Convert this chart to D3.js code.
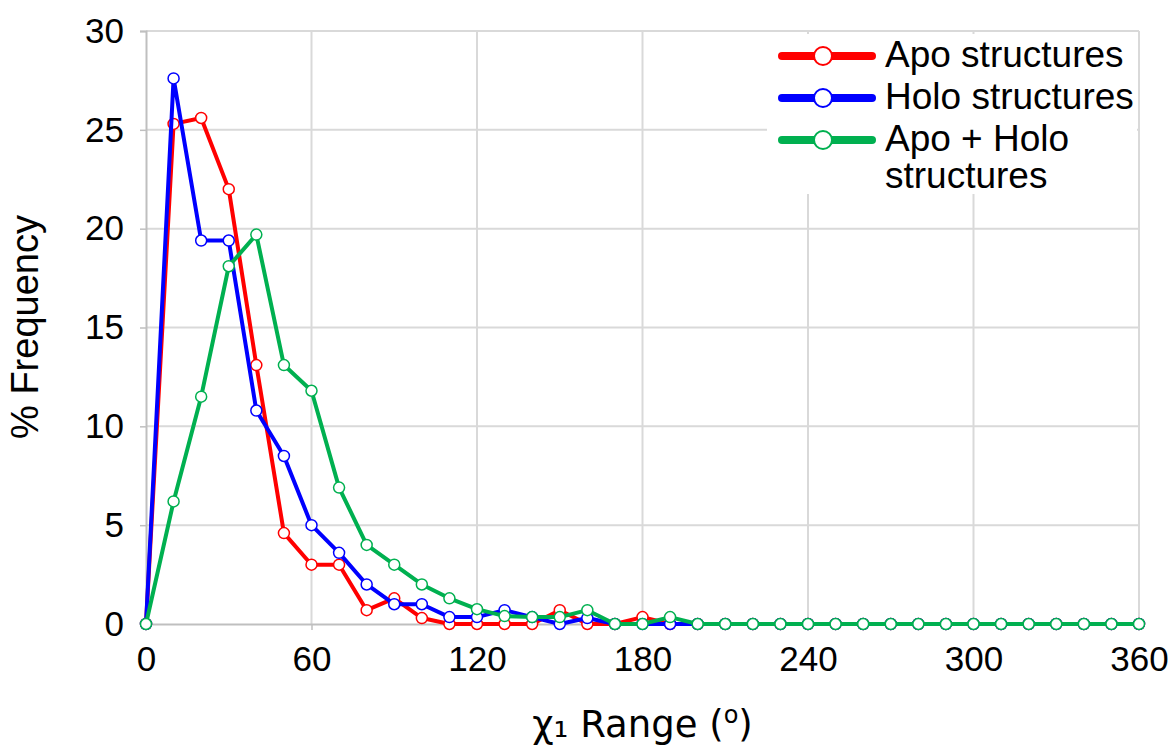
<!DOCTYPE html>
<html>
<head>
<meta charset="utf-8">
<script src="https://cdn.jsdelivr.net/npm/d3@7"></script>
<style>
  body { margin: 0; background: white; }
  svg { display: block; }
</style>
</head>
<body>
<div class="chi-chart"></div>
<script>
// chi1 range bins (degrees)
var angles = [0, 10, 20, 30, 40, 50, 60, 70, 80, 90, 100, 110, 120, 130, 140, 150, 160, 170, 180,
              190, 200, 210, 220, 230, 240, 250, 260, 270, 280, 290, 300, 310, 320, 330, 340, 350, 360];

// % frequency per bin
var apoData = [0, 25.3, 25.6, 22.0, 13.1, 4.6, 3.0, 3.0, 0.7, 1.3, 0.3, 0, 0, 0, 0, 0.7, 0, 0, 0.35,
               0, 0, 0, 0, 0, 0, 0, 0, 0, 0, 0, 0, 0, 0, 0, 0, 0, 0];
var holoData = [0, 27.6, 19.4, 19.4, 10.8, 8.5, 5.0, 3.6, 2.0, 1.0, 1.0, 0.35, 0.35, 0.7, 0.35, 0, 0.3, 0, 0,
                0, 0, 0, 0, 0, 0, 0, 0, 0, 0, 0, 0, 0, 0, 0, 0, 0, 0];
var bothData = [0, 6.2, 11.5, 18.1, 19.7, 13.1, 11.8, 6.9, 4.0, 3.0, 2.0, 1.3, 0.75, 0.4, 0.35, 0.35, 0.7, 0, 0,
                0.35, 0, 0, 0, 0, 0, 0, 0, 0, 0, 0, 0, 0, 0, 0, 0, 0, 0];

var seriesNames = ['Apo structures', 'Holo structures', 'Apo + Holo|structures'];
var seriesColors = ['#ff0000', '#0000ff', '#00b050'];
var xTicks = [0, 60, 120, 180, 240, 300, 360];
var yTicks = [0, 5, 10, 15, 20, 25, 30];

var width = 1173,
    height = 747,
    margin = {top: 31, right: 34, bottom: 123, left: 146};

var series = [apoData, holoData, bothData];

var svg = d3.select('.chi-chart').append('svg')
    .attr('width', width)
    .attr('height', height)
    .style('background', 'white');

var x = d3.scaleLinear().domain([0, 360]).range([margin.left, width - margin.right]);
var y = d3.scaleLinear().domain([0, 30]).range([height - margin.bottom, margin.top]);

var tickFont = '"Liberation Sans", Arial, sans-serif';

// gridlines
svg.append('g').selectAll('line').data(yTicks.slice(1))
    .enter().append('line')
        .attr('x1', x(0)).attr('x2', x(360))
        .attr('y1', function(d) { return y(d); })
        .attr('y2', function(d) { return y(d); })
        .attr('stroke', '#d9d9d9')
        .attr('stroke-width', 2);

svg.append('g').selectAll('line').data(xTicks.slice(1))
    .enter().append('line')
        .attr('y1', y(0)).attr('y2', y(30))
        .attr('x1', function(d) { return x(d); })
        .attr('x2', function(d) { return x(d); })
        .attr('stroke', '#d9d9d9')
        .attr('stroke-width', 2);

// axes
var xAxis = svg.append('g')
    .attr('transform', 'translate(0,' + y(0) + ')')
    .call(d3.axisBottom(x).tickValues(xTicks).tickSize(6).tickPadding(8));
var yAxis = svg.append('g')
    .attr('transform', 'translate(' + x(0) + ',0)')
    .call(d3.axisLeft(y).tickValues(yTicks).tickSize(6).tickPadding(16));

[xAxis, yAxis].forEach(function(a) {
    a.select('.domain').attr('stroke', '#bfbfbf').attr('stroke-width', 2);
    a.selectAll('.tick line').attr('stroke', '#bfbfbf').attr('stroke-width', 1.5);
    a.selectAll('.tick text')
        .attr('fill', 'black')
        .style('font-family', tickFont)
        .style('font-size', '35px');
});
xAxis.selectAll('.tick text').attr('dy', '0.95em');

// lines and markers, one series at a time
var line = d3.line()
    .x(function(d, i) { return x(angles[i]); })
    .y(function(d) { return y(d); });

series.forEach(function(data, s) {
    var g = svg.append('g');
    g.append('path')
        .datum(data)
        .attr('d', line)
        .attr('fill', 'none')
        .attr('stroke', seriesColors[s])
        .attr('stroke-width', 4)
        .attr('stroke-linejoin', 'round');
    g.selectAll('circle').data(data)
        .enter().append('circle')
            .attr('cx', function(d, i) { return x(angles[i]); })
            .attr('cy', function(d) { return y(d); })
            .attr('r', 5.5)
            .attr('fill', 'white')
            .attr('stroke', seriesColors[s])
            .attr('stroke-width', 1.5);
});

// legend
var legend = svg.append('g');
legend.append('rect')
    .attr('x', 767).attr('y', 34)
    .attr('width', 370).attr('height', 160)
    .attr('fill', 'white');

var legendY = [56, 98, 140];
seriesNames.forEach(function(name, s) {
    legend.append('line')
        .attr('x1', 782).attr('x2', 872)
        .attr('y1', legendY[s]).attr('y2', legendY[s])
        .attr('stroke', seriesColors[s])
        .attr('stroke-width', 8)
        .attr('stroke-linecap', 'round');
    legend.append('circle')
        .attr('cx', 823).attr('cy', legendY[s])
        .attr('r', 9)
        .attr('fill', 'white')
        .attr('stroke', seriesColors[s])
        .attr('stroke-width', 2);
    name.split('|').forEach(function(part, k) {
        legend.append('text')
            .text(part)
            .attr('x', 885)
            .attr('y', legendY[s] + 11 + k * 37)
            .attr('fill', 'black')
            .style('font-family', tickFont)
            .style('font-size', '37px');
    });
});

// axis titles
svg.append('text')
    .text('% Frequency')
    .attr('transform', 'translate(38,' + 327 + ') rotate(-90)')
    .attr('text-anchor', 'middle')
    .attr('fill', 'black')
    .style('font-family', tickFont)
    .style('font-size', '38px');

var xTitle = svg.append('text')
    .attr('x', (x(0) + x(360)) / 2)
    .attr('y', 737)
    .attr('text-anchor', 'middle')
    .attr('fill', 'black')
    .style('font-family', '"DejaVu Sans", Verdana, sans-serif')
    .style('font-size', '37px');
xTitle.append('tspan').text('χ\u2081 Range (');
xTitle.append('tspan').text('o').attr('dy', -14).style('font-size', '24px');
xTitle.append('tspan').text(')').attr('dy', 14);
</script>
</body>
</html>
